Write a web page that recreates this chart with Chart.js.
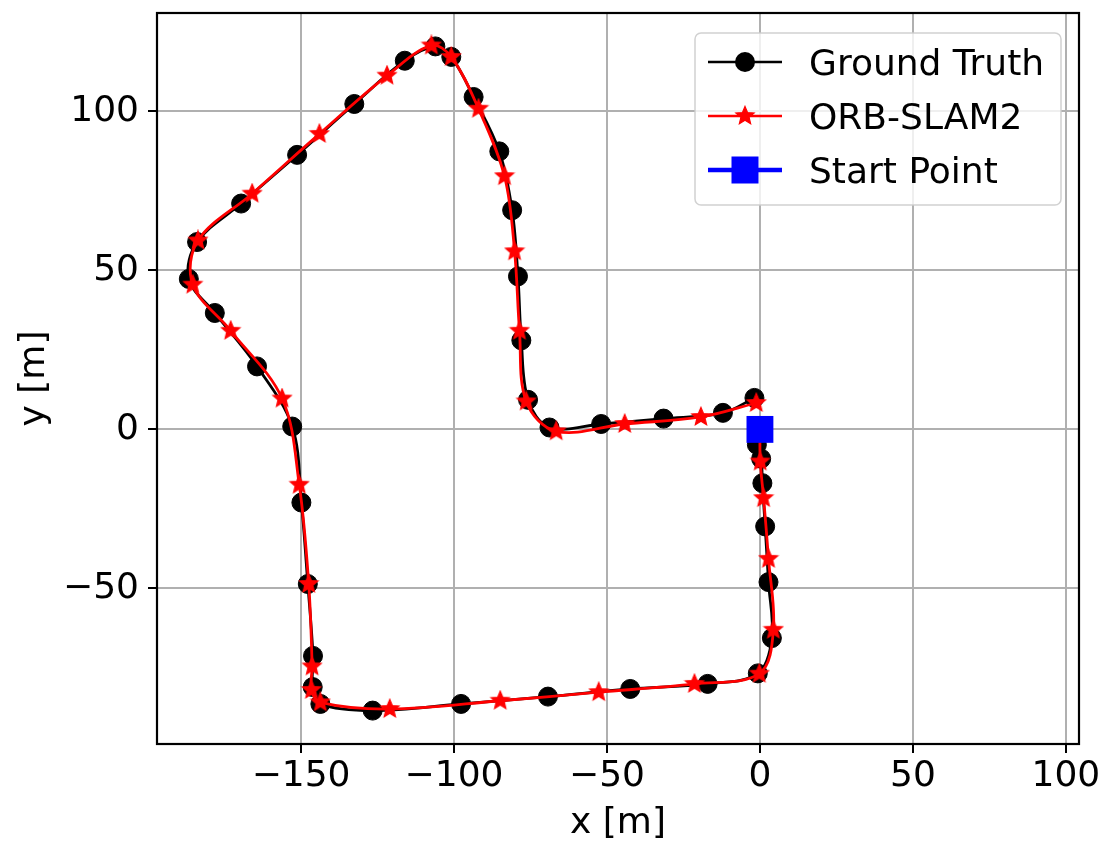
<!DOCTYPE html>
<html>
<head>
<meta charset="utf-8">
<script src="https://cdn.jsdelivr.net/npm/chart.js@4/dist/chart.umd.min.js"></script>
<style>
  html, body { margin: 0; padding: 0; background: #fff; }
</style>
</head>
<body>
<canvas id="traj" width="1102" height="843"></canvas>
<script>
// ground truth trajectory (markers), metres
const gtX = [0, -1.0, 0.4, 0.8, 1.7, 2.8, 3.9, -0.7, -17.1, -42.4, -69.3, -97.7, -126.6,
  -143.7, -146.2, -146.1, -147.8, -149.9, -152.9, -164.4, -178.2, -186.7, -184.0, -169.6,
  -151.3, -132.6, -116.1, -106.1, -100.9, -93.6, -85.2, -81.0, -79.1, -78.0, -75.8, -68.8,
  -51.9, -31.5, -12.1, -1.8];
const gtY = [0, -4.8, -9.2, -16.9, -30.5, -48.0, -65.6, -76.7, -80.0, -81.6, -84.0, -86.3, -88.4,
  -86.3, -81.0, -71.2, -48.6, -23.0, 0.9, 19.8, 36.6, 47.3, 58.9, 71.0,
  86.3, 102.3, 115.9, 120.4, 117.1, 104.5, 87.4, 68.9, 48.1, 28.0, 9.3, 0.6,
  1.7, 3.4, 5.2, 9.9];

// ORB-SLAM2 estimate
const orbX = [0, 0.1, 1.2, 2.8, 4.4, -0.2, -21.4, -52.7, -84.9, -121.0, -143.7, -146.6, -146.4,
  -147.5, -150.6, -156.2, -173.0, -185.4, -183.7, -166.0, -144.0, -121.9, -107.4, -100.9,
  -92.0, -83.5, -80.2, -78.6, -76.4, -66.6, -44.2, -19.3, -1.2];
const orbY = [0, -10.1, -21.6, -40.7, -63.0, -76.8, -80.0, -82.6, -85.3, -87.9, -85.8, -81.9, -74.5,
  -48.6, -17.4, 9.7, 31.0, 45.5, 59.4, 74.1, 92.9, 111.2, 120.7, 117.1,
  100.8, 79.6, 56.0, 31.0, 8.8, -0.6, 1.7, 3.9, 8.3];

const startX = [0];
const startY = [0];

const xTicks = [-150, -100, -50, 0, 50, 100];
const yTicks = [-50, 0, 50, 100];
const xMin = -197.1, xMax = 104.3;
const yMin = -98.9, yMax = 130.9;

const FONT = 'DejaVu Sans';
Chart.defaults.font.family = FONT;
Chart.defaults.color = '#000';

function pts(xs, ys) {
  return xs.map((x, i) => ({ x: x, y: ys[i] }));
}

// matplotlib-like filled star marker
function makeStar(r, color) {
  const size = Math.ceil(r * 2 + 2);
  const c = document.createElement('canvas');
  c.width = c.height = size;
  const g = c.getContext('2d');
  g.translate(size / 2, size / 2);
  g.beginPath();
  for (let i = 0; i < 10; i++) {
    const rad = i % 2 ? r * 0.45 : r;
    const a = -Math.PI / 2 + i * Math.PI / 5;
    g.lineTo(rad * Math.cos(a), rad * Math.sin(a));
  }
  g.closePath();
  g.fillStyle = color;
  g.fill();
  g.lineWidth = 1.2;
  g.strokeStyle = color;
  g.stroke();
  return c;
}
const starImg = makeStar(9.6, '#ff0000');

const fmt = v => String(v).replace('-', '\u2212');

// drop the label overhang padding chart.js reserves, so the plot box sits where we want it
function noOverhang(s) {
  s.paddingLeft = s.paddingRight = s.paddingTop = s.paddingBottom = 0;
}

const legendItems = [
  { label: 'Ground Truth', color: '#000', lw: 2.5, marker: 'circle' },
  { label: 'ORB-SLAM2', color: '#ff0000', lw: 2.5, marker: 'star' },
  { label: 'Start Point', color: '#0000ff', lw: 4.5, marker: 'square' }
];

const framePlugin = {
  id: 'frame',
  afterDatasetsDraw(chart) {
    const a = chart.chartArea, ctx = chart.ctx;
    ctx.save();
    ctx.strokeStyle = '#000';
    ctx.lineWidth = 2.2;
    ctx.strokeRect(a.left, a.top, a.right - a.left, a.bottom - a.top);
    ctx.restore();
  }
};

const legendPlugin = {
  id: 'mplLegend',
  afterDraw(chart) {
    const ctx = chart.ctx, a = chart.chartArea;
    const bw = 366, bh = 172;
    const bx = a.right - 18 - bw, by = a.top + 20;
    ctx.save();
    ctx.beginPath();
    ctx.roundRect(bx, by, bw, bh, 6);
    ctx.fillStyle = 'rgba(255,255,255,0.8)';
    ctx.fill();
    ctx.strokeStyle = 'rgba(204,204,204,0.9)';
    ctx.lineWidth = 1.5;
    ctx.stroke();
    legendItems.forEach((it, i) => {
      const y = by + 29 + i * 54;
      const mx = bx + 50;
      ctx.strokeStyle = it.color;
      ctx.lineWidth = it.lw;
      ctx.beginPath();
      ctx.moveTo(bx + 13, y);
      ctx.lineTo(bx + 87, y);
      ctx.stroke();
      ctx.fillStyle = it.color;
      if (it.marker === 'circle') {
        ctx.beginPath();
        ctx.arc(mx, y, 10, 0, Math.PI * 2);
        ctx.fill();
      } else if (it.marker === 'star') {
        ctx.drawImage(starImg, mx - starImg.width / 2, y - starImg.height / 2);
      } else {
        ctx.fillRect(mx - 13.5, y - 13.5, 27, 27);
      }
      ctx.fillStyle = '#000';
      ctx.font = '36px "' + FONT + '"';
      ctx.textBaseline = 'alphabetic';
      ctx.textAlign = 'left';
      ctx.fillText(it.label, bx + 114, y + 13);
    });
    ctx.restore();
  }
};

new Chart(document.getElementById('traj'), {
  type: 'scatter',
  data: {
    datasets: [
      {
        label: 'Start Point',
        data: pts(startX, startY),
        pointStyle: 'rect',
        pointRadius: 19,
        pointHoverRadius: 19,
        backgroundColor: '#0000ff',
        borderColor: '#0000ff',
        pointBorderWidth: 0,
        showLine: false,
        order: 0
      },
      {
        label: 'ORB-SLAM2',
        data: pts(orbX, orbY),
        showLine: true,
        tension: 0.35,
        borderColor: '#ff0000',
        borderWidth: 2.8,
        backgroundColor: '#ff0000',
        pointStyle: starImg,
        pointRadius: 9,
        pointHoverRadius: 9,
        order: 1
      },
      {
        label: 'Ground Truth',
        data: pts(gtX, gtY),
        showLine: true,
        tension: 0.35,
        borderColor: '#000',
        borderWidth: 2.8,
        backgroundColor: '#000',
        pointStyle: 'circle',
        pointRadius: 9.5,
        pointHoverRadius: 9.5,
        pointBorderWidth: 1,
        order: 2
      }
    ]
  },
  options: {
    responsive: false,
    animation: false,
    events: [],
    layout: { autoPadding: false, padding: { left: 0, top: 13, right: 23, bottom: 0 } },
    plugins: {
      legend: { display: false },
      tooltip: { enabled: false }
    },
    scales: {
      x: {
        type: 'linear',
        min: xMin,
        max: xMax,
        afterBuildTicks: s => { s.ticks = xTicks.map(v => ({ value: v })); },
        afterFit: s => { s.height = 99; noOverhang(s); },
        border: { display: false },
        grid: { color: '#b0b0b0', lineWidth: 2, tickColor: '#000', tickLength: 9, tickWidth: 2 },
        ticks: { font: { size: 36 }, padding: 2, maxRotation: 0, autoSkip: false, callback: v => fmt(v) },
        title: { display: true, text: 'x [m]', font: { size: 36 }, padding: { top: 0, bottom: -2 } }
      },
      y: {
        type: 'linear',
        min: yMin,
        max: yMax,
        afterBuildTicks: s => { s.ticks = yTicks.map(v => ({ value: v })); },
        afterFit: s => { s.width = 157; noOverhang(s); },
        border: { display: false },
        grid: { color: '#b0b0b0', lineWidth: 2, tickColor: '#000', tickLength: 9, tickWidth: 2 },
        ticks: { font: { size: 36 }, padding: 9, autoSkip: false, callback: v => fmt(v) },
        title: { display: true, text: 'y [m]', font: { size: 36 }, padding: { top: 13, bottom: 0 } }
      }
    }
  },
  plugins: [framePlugin, legendPlugin]
});
</script>
</body>
</html>
